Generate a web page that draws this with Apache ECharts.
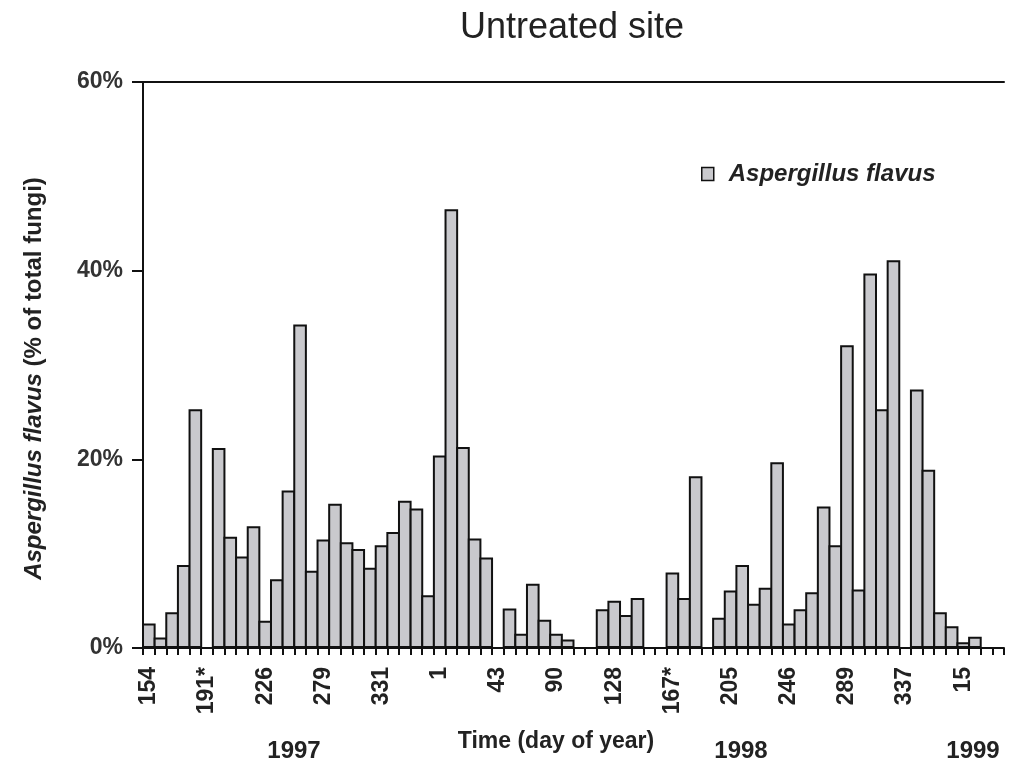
<!DOCTYPE html>
<html>
<head>
<meta charset="utf-8">
<script src="https://cdn.jsdelivr.net/npm/echarts@6/dist/echarts.min.js"></script>
<style>
  html, body { margin: 0; padding: 0; background: #fff; }
  #chart { width: 1014px; height: 770px; }
</style>
</head>
<body>
<div id="chart"></div>
<script>
// labelled sampling days (every 5th sampling slot)
const tickLabels = ['154', '191*', '226', '279', '331', '1', '43', '90', '128', '167*', '205', '246', '289', '337', '15']
const years = ['1997', '1998', '1999']

// % A. flavus of total fungi per sampling slot (null = no bar)
const flavus = [
  2.6, 1.1, 3.8, 8.8, 25.3, null, 21.2, 11.8, 9.7, 12.9,
  2.9, 7.3, 16.7, 34.3, 8.2, 11.5, 15.3, 11.2, 10.5, 8.5,
  10.9, 12.3, 15.6, 14.8, 5.6, 20.4, 46.5, 21.3, 11.6, 9.6,
  null, 4.2, 1.5, 6.8, 3.0, 1.5, 0.9, null, null, 4.1,
  5.0, 3.5, 5.3, null, null, 8.0, 5.3, 18.2, null, 3.2,
  6.1, 8.8, 4.7, 6.4, 19.7, 2.6, 4.1, 5.9, 15.0, 10.9,
  32.1, 6.2, 39.7, 25.3, 41.1, null, 27.4, 18.9, 3.8, 2.3,
  0.6, 1.2, null, null
]

const slots = flavus.map((v, i) => String(i))

const chart = echarts.init(document.getElementById('chart'))
const font = 'Liberation Sans, Arial, sans-serif'

chart.setOption({
  animation: false,
  textStyle: { fontFamily: font },
  title: {
    text: 'Untreated site',
    left: 455, top: 5,
    textStyle: { fontSize: 36, fontWeight: 'normal', color: '#222', fontFamily: font },
  },
  legend: {
    left: 696, top: 157,
    icon: 'rect', itemWidth: 12, itemHeight: 13,
    itemStyle: { borderColor: '#111', borderWidth: 1.5 },
    textStyle: { fontSize: 24, fontWeight: 'bold', fontStyle: 'italic', color: '#222', padding: [0, 0, 0, 10] },
    data: ['Aspergillus flavus'],
  },
  grid: { left: 143, right: 10, top: 82, bottom: 122 },
  xAxis: [
    {
      type: 'category', data: slots,
      axisLine: { lineStyle: { color: '#111', width: 2 } },
      axisTick: { show: true, interval: 0, length: 7, lineStyle: { color: '#111', width: 2 } },
      axisLabel: {
        interval: 0, rotate: 90, margin: 19,
        fontSize: 23, fontWeight: 'bold', color: '#222',
        formatter: (v, i) => (i % 5 === 0 ? tickLabels[i / 5] : ''),
      },
      name: 'Time (day of year)',
      nameLocation: 'middle', nameGap: 82,
      nameTextStyle: { fontSize: 23, fontWeight: 'bold', color: '#222', padding: [0, 35, 0, 0] },
    },
    {
      type: 'category', data: slots, position: 'top',
      axisLine: { lineStyle: { color: '#111', width: 2 } },
      axisTick: { show: false }, axisLabel: { show: false },
    },
  ],
  yAxis: {
    type: 'value', min: 0, max: 60, interval: 20,
    axisLine: { show: true, lineStyle: { color: '#111', width: 2 } },
    axisTick: { show: true, length: 11, lineStyle: { color: '#111', width: 2 } },
    axisLabel: { formatter: '{value}%', margin: 20, fontSize: 23, fontWeight: 'bold', color: '#333' },
    splitLine: { show: false },
    name: '{i|Aspergillus flavus} (% of total fungi)',
    nameLocation: 'middle', nameRotate: 90, nameGap: 97,
    nameTextStyle: {
      fontSize: 24, fontWeight: 'bold', color: '#222', padding: [0, 27, 0, 0],
      rich: { i: { fontSize: 24, fontWeight: 'bold', fontStyle: 'italic', color: '#222' } },
    },
  },
  graphic: [
    { type: 'text', x: 294, y: 751, style: { text: years[0], font: 'bold 24px ' + font, fill: '#222', align: 'center', verticalAlign: 'middle' } },
    { type: 'text', x: 741, y: 751, style: { text: years[1], font: 'bold 24px ' + font, fill: '#222', align: 'center', verticalAlign: 'middle' } },
    { type: 'text', x: 973, y: 751, style: { text: years[2], font: 'bold 24px ' + font, fill: '#222', align: 'center', verticalAlign: 'middle' } },
  ],
  series: [{
    name: 'Aspergillus flavus', type: 'bar',
    data: flavus,
    barWidth: '117%',
    itemStyle: { color: '#c9c9cd', borderColor: '#111', borderWidth: 2 },
  }],
})
</script>
</body>
</html>
